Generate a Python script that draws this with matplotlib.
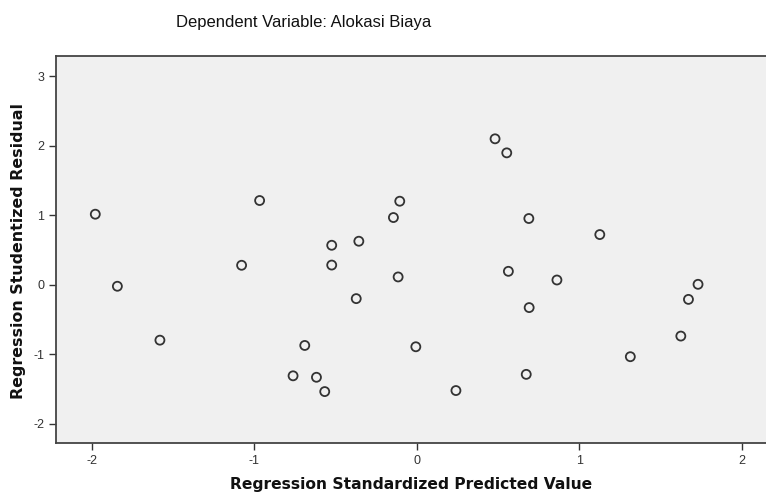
import matplotlib
matplotlib.use("Agg")
import matplotlib.pyplot as plt

predicted = [-1.980, -1.844, -1.582, -1.079, -0.968, -0.762, -0.690, -0.618, -0.567, -0.524,
             -0.524, -0.373, -0.357, -0.144, -0.105, -0.115, -0.006, 0.241, 0.482, 0.554,
             0.564, 0.674, 0.690, 0.692, 0.863, 1.127, 1.315, 1.626, 1.673, 1.732]
residual = [1.013, -0.024, -0.800, 0.278, 1.210, -1.313, -0.876, -1.334, -1.540, 0.566,
            0.281, -0.202, 0.624, 0.965, 1.200, 0.110, -0.895, -1.525, 2.098, 1.896,
            0.191, -1.292, 0.951, -0.331, 0.066, 0.720, -1.038, -0.741, -0.213, 0.004]
xticks = [-2, -1, 0, 1, 2]
yticks = [-2, -1, 0, 1, 2, 3]

plt.rcParams['font.family'] = ['Liberation Sans', 'DejaVu Sans']
plt.rcParams['axes.unicode_minus'] = False

fig = plt.figure(figsize=(7.66, 4.95), dpi=100)
ax = fig.add_axes([56/766, 52/495, 1 - 56/766 + 0.002, (443-56)/495])
ax.set_facecolor('#F0F0F0')
ax.scatter(predicted, residual, s=42, facecolors='none', edgecolors='#333333', linewidths=1.3, zorder=3)

ax.set_xlim(-2.222, 2.16)
ax.set_ylim(-2.28, 3.29)
ax.set_xticks(xticks)
ax.set_yticks(yticks)
ax.tick_params(direction='out', length=5, width=1, colors='#333333', labelsize=9, labelcolor='#333333')
for s in ax.spines.values():
    s.set_color('#444444')
    s.set_linewidth(1.3)

fig.text(304/766, 1 - 22/495, 'Dependent Variable: Alokasi Biaya', ha='center', va='center', fontsize=12,
         color='#111111')
fig.text(411/766, 1 - 484/495, 'Regression Standardized Predicted Value', ha='center', va='center',
         fontsize=11.2, fontweight='bold', color='#111111', family='DejaVu Sans')
fig.text(19/766, 1 - 251/495, 'Regression Studentized Residual', ha='center', va='center',
         fontsize=11.4, fontweight='bold', rotation=90, color='#111111', family='DejaVu Sans')

fig.savefig('out.png', dpi=100)
